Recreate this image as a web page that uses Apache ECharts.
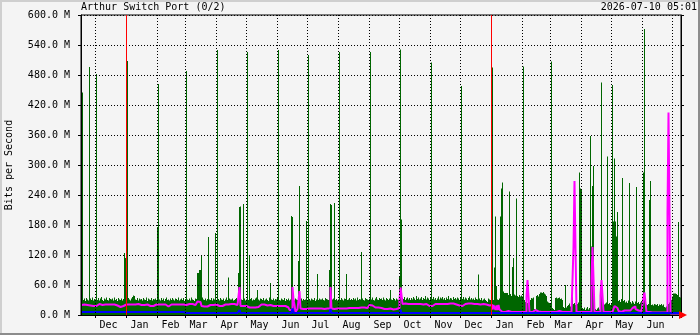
<!DOCTYPE html>
<html>
<head>
<meta charset="utf-8">
<script src="https://cdn.jsdelivr.net/npm/echarts@6/dist/echarts.min.js"></script>
<style>html,body{margin:0;padding:0;background:#f4f4f4;}#c{width:700px;height:335px;}</style>
</head>
<body>
<div id="c"></div>
<script>
// one category per day: index 0 = 2024-11-17 ... index 599 = 2026-07-09
const dayCount = 600;
const monthStarts = [14,45,76,104,135,165,196,226,257,288,318,349,379,410,441,469,500,530,561,591];
const monthLabels = ['Dec','Jan','Feb','Mar','Apr','May','Jun','Jul','Aug','Sep','Oct','Nov','Dec','Jan','Feb','Mar','Apr','May','Jun'];
const yearStarts = [45, 410];

// green: daily inbound traffic (Mbit/s)
const inTraffic = [
440,445,30,33,28,34,31,29,496,33,30,35,29,32,31,482,30,34,29,33,36,30,28,33,31,35,30,29,34,32,
31,33,29,35,30,32,28,34,31,30,33,29,32,124,114,30,508,34,31,29,33,36,39,38,31,30,34,29,33,31,
32,29,34,31,30,35,28,33,31,30,34,29,32,31,33,30,176,462,31,29,34,30,33,28,32,35,30,31,29,33,
30,34,31,29,33,32,30,35,29,31,33,30,34,28,32,488,31,30,33,29,35,31,30,28,33,32,84,84,90,90,
118,35,31,30,33,29,32,156,31,30,34,29,33,31,164,30,530,32,29,34,31,30,33,28,31,35,30,75,33,31,
31,33,29,30,32,34,30,84,216,217,31,30,222,33,29,31,526,30,118,32,34,29,31,30,33,35,50,31,29,33,
32,30,34,29,31,33,30,28,35,64,31,30,33,29,32,31,34,530,30,29,33,31,30,34,28,32,30,33,29,31,
198,196,30,29,33,31,30,108,258,31,33,29,32,30,31,188,30,520,32,29,33,31,30,34,28,31,82,30,33,31,
31,33,30,29,34,32,31,30,90,222,220,31,33,224,30,32,29,31,526,30,34,31,29,33,32,82,30,31,34,30,
32,30,34,31,33,29,35,30,32,31,126,33,30,29,34,32,31,30,33,526,31,35,30,29,33,36,31,30,34,32,
33,30,35,31,29,34,32,30,33,50,31,30,34,32,29,33,31,30,77,531,191,34,32,36,30,33,35,31,34,30,
34,31,36,33,30,38,32,35,31,33,36,30,34,32,38,31,35,33,30,34,505,32,36,31,34,30,33,37,31,35,
33,36,31,34,30,35,32,38,31,34,33,30,36,32,34,31,35,33,30,34,458,32,36,31,35,33,30,34,37,31,
34,31,33,30,35,32,31,81,33,30,34,29,31,33,30,28,26,33,31,30,32,495,30,95,197,58,31,30,33,197,
253,265,47,44,44,44,44,40,247,42,38,96,114,41,39,233,38,36,40,37,39,37,497,30,26,28,24,27,25,30,
34,33,35,12,10,38,40,37,42,45,45,44,46,43,41,38,27,25,24,22,507,14,12,10,34,35,33,34,35,32,
33,30,16,14,60,15,18,20,23,17,21,100,22,24,20,26,22,25,285,253,250,14,12,15,10,13,16,11,14,358,
137,258,298,14,12,10,13,15,11,12,465,22,24,21,23,25,317,22,24,20,23,460,187,313,187,157,206,28,30,26,
32,274,28,30,25,27,24,29,264,26,23,28,25,22,27,256,24,26,22,25,28,23,285,572,24,21,20,22,230,268,
20,21,19,22,21,20,22,18,21,20,22,19,21,16,15,17,20,22,25,27,30,37,43,43,43,42,40,186,36,35
];

// magenta: daily line (Mbit/s)
const maxTraffic = [
20,20,21,20,19,20,21,20,19,17,17,18,17,17,18,21,21,22,21,21,20,21,22,21,21,20,21,21,22,21,
21,20,21,20,20,19,17,17,16,17,17,18,21,22,21,20,22,21,21,20,21,22,21,21,20,21,22,21,21,20,
21,21,20,21,22,21,20,18,18,17,18,18,19,21,21,22,21,21,22,21,21,20,21,21,18,18,17,18,20,21,
21,22,21,21,20,21,22,21,21,20,21,21,22,21,20,21,21,22,21,21,22,21,21,20,22,24,27,28,26,22,
18,17,17,17,16,17,17,20,20,21,20,20,19,20,21,20,18,18,17,18,18,18,21,21,22,21,21,20,21,22,
21,21,22,21,21,20,21,22,56,18,18,18,17,18,18,18,15,15,14,15,15,15,14,15,15,15,16,20,20,21,
20,20,21,20,20,19,20,20,20,18,18,18,17,18,18,18,19,18,18,18,18,17,18,18,17,16,15,13,10,8,
10,56,30,20,6,6,12,13,48,13,13,12,13,13,12,13,13,13,12,13,13,12,13,13,13,12,13,13,12,13,
13,13,12,13,13,13,12,13,13,56,13,13,12,13,13,13,13,14,13,13,14,13,13,14,13,14,13,14,14,13,
14,14,15,14,14,15,14,15,14,15,15,14,15,14,15,14,15,15,20,20,19,16,15,15,14,15,15,14,15,14,
13,13,12,13,13,12,13,12,13,12,11,11,12,13,12,13,13,14,30,55,40,22,22,23,22,21,22,23,22,22,
22,23,22,22,21,22,23,22,22,23,22,21,22,23,22,22,19,18,18,17,18,18,19,22,22,23,22,22,21,22,
22,23,22,22,23,22,21,22,23,22,22,23,22,22,21,22,22,19,18,18,18,19,18,22,22,23,23,22,22,23,
22,21,22,22,21,22,21,22,21,22,21,22,21,20,21,22,20,19,21,20,20,11,20,21,10,19,10,20,11,7,
6,6,6,6,6,7,8,8,7,6,6,6,6,6,6,6,6,6,6,6,6,6,6,6,6,37,70,37,6,6,
6,9,10,10,9,10,7,6,6,6,6,6,6,6,6,6,6,6,6,6,6,6,6,6,6,6,8,8,8,6,
6,6,6,6,6,6,6,6,6,6,6,6,135,268,135,6,6,6,6,6,6,6,6,6,6,6,6,6,6,6,
74,136,74,6,6,6,6,6,6,39,70,39,6,6,6,6,6,6,6,6,6,6,12,18,15,14,10,8,6,6,
8,8,9,10,10,9,10,10,9,10,10,14,17,17,12,10,9,8,8,8,8,8,35,45,25,6,6,6,6,6,
5,5,5,5,5,5,5,5,5,5,5,5,5,5,5,5,205,405,205,3,3,3,3,3,3,3,3,3,3,3
];

// blue: outbound traffic as runs [first day index, value]
const outRuns = [[0,6],[104,4],[158,10],[159,4],[211,13],[212,4],[249,12],[250,4],[319,11],[320,4]];

const yMax = 600, yStep = 60;

const categories = Array.from({length: dayCount}, (_, i) => String(i));
const outTraffic = categories.map((_, i) => {
  let v = outRuns[0][1];
  for (const r of outRuns) if (r[0] <= i) v = r[1];
  return v;
});
const labelAt = {};
monthLabels.forEach((m, k) => { labelAt[monthStarts[k] + 13] = m; });
const monthGrid = new Set(monthStarts.filter(s => !yearStarts.includes(s)));
const mono = 'DejaVu Sans Mono';

const chart = echarts.init(document.getElementById('c'), null, {renderer: 'canvas'});
chart.setOption({
  animation: false,
  backgroundColor: '#f4f4f4',
  textStyle: {fontFamily: mono},
  title: [
    {text: 'Arthur Switch Port (0/2)', left: 81, top: 2, padding: 0,
     textStyle: {fontFamily: mono, fontSize: 10, fontWeight: 'normal', color: '#000'}},
    {text: '2026-07-10 05:01', right: 3, top: 2, padding: 0,
     textStyle: {fontFamily: mono, fontSize: 10, fontWeight: 'normal', color: '#000'}}
  ],
  grid: {left: 81, top: 15, width: 600, height: 300, show: true, containLabel: false,
         outerBoundsMode: 'none',
         backgroundColor: '#f4f4f4', borderColor: '#000', borderWidth: 1},
  xAxis: [
    {type: 'category', data: categories, boundaryGap: true, z: 5,
     axisLine: {lineStyle: {color: '#000', width: 1}},
     axisTick: {show: true, length: 3, interval: (i) => monthStarts.includes(i), lineStyle: {color: '#000'}},
     axisLabel: {interval: (i) => labelAt[i] !== undefined, formatter: (v, i) => labelAt[i] || '',
                 fontFamily: mono, fontSize: 10, color: '#000', margin: 5},
     splitLine: {show: true, interval: (i) => monthGrid.has(i), lineStyle: {color: '#000', type: [1, 2], width: 1}}},
    {type: 'value', min: 0, max: dayCount, show: false}
  ],
  yAxis: [
    {type: 'value', min: 0, max: yMax, interval: yStep, z: 5,
     name: 'Bits per Second', nameLocation: 'middle', nameGap: 67, nameRotate: 90,
     nameTextStyle: {fontFamily: mono, fontSize: 10, color: '#000'},
     axisLine: {show: true, lineStyle: {color: '#000'}},
     axisTick: {show: true, length: 3, lineStyle: {color: '#000'}},
     axisLabel: {formatter: (v) => v.toFixed(1) + ' M', fontFamily: mono, fontSize: 10, color: '#000', margin: 11},
     splitLine: {show: true, lineStyle: {color: '#000', type: [1, 2], width: 1}}},
    {type: 'value', min: 0, max: yMax, interval: yStep, position: 'right', z: 5,
     axisLine: {show: true, lineStyle: {color: '#000'}},
     axisTick: {show: true, length: 3, lineStyle: {color: '#000'}},
     axisLabel: {show: false}, splitLine: {show: false}}
  ],
  series: [
    {type: 'bar', name: 'in', data: inTraffic, barWidth: 1, barGap: '0%',
     itemStyle: {color: '#006600'}, z: 2, silent: true},
    {type: 'line', name: 'max', data: maxTraffic, step: 'end', symbol: 'none',
     lineStyle: {color: '#ff00ff', width: 2}, z: 3, silent: true},
    {type: 'line', name: 'out', data: outTraffic, step: 'end', symbol: 'none',
     lineStyle: {color: '#0000ff', width: 2}, z: 4, silent: true},
    {type: 'line', name: 'year', xAxisIndex: 1, data: [], z: 8, silent: true,
     markLine: {silent: true, symbol: 'none', animation: false, label: {show: false},
                lineStyle: {color: '#ff0000', width: 1, type: 'solid'},
                data: yearStarts.map(d => ({xAxis: d + 0.5}))}}
  ],
  graphic: [
    {type: 'polygon', shape: {points: [[679, 311], [679, 319], [687, 315]]}, style: {fill: '#ff0000'}, z: 10},
    {type: 'rect', shape: {x: 0, y: 0, width: 700, height: 2}, style: {fill: '#cfcfcf'}, z: 10},
    {type: 'rect', shape: {x: 0, y: 0, width: 2, height: 335}, style: {fill: '#cfcfcf'}, z: 10},
    {type: 'rect', shape: {x: 0, y: 333, width: 700, height: 2}, style: {fill: '#8c8c8c'}, z: 10},
    {type: 'rect', shape: {x: 698, y: 0, width: 2, height: 335}, style: {fill: '#8c8c8c'}, z: 10}
  ]
});
</script>
</body>
</html>
